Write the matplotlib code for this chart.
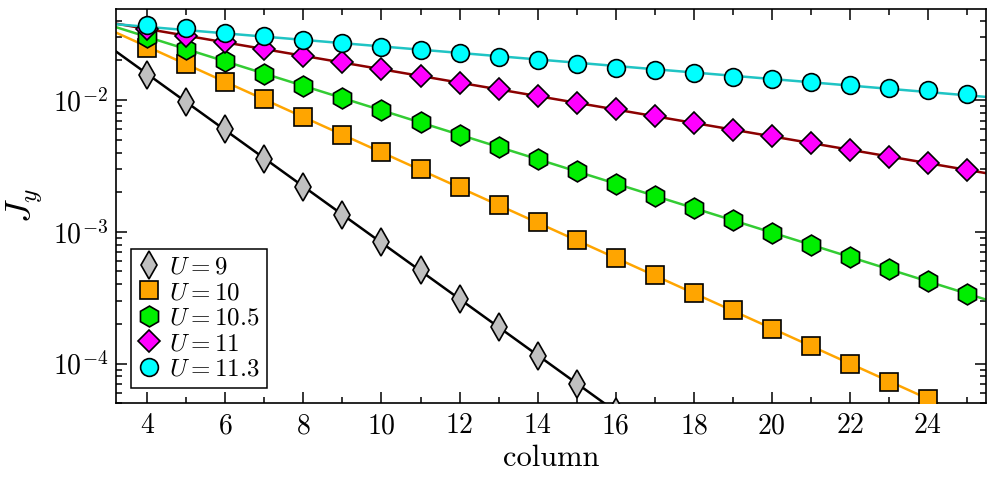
import numpy
import matplotlib
matplotlib.use("Agg")
from matplotlib import pyplot

pyplot.rcParams["font.family"] = "serif"
pyplot.rcParams["font.serif"] = ["cmr10"]
pyplot.rcParams["mathtext.fontset"] = "cm"
pyplot.rcParams["axes.formatter.use_mathtext"] = True

# data
labels = [r"$U=9$", r"$U=10$", r"$U=10.5$", r"$U=11$", r"$U=11.3$"]

col_u9 = numpy.arange(4, 17)
jy_u9 = [0.0155, 0.0097, 0.0060, 0.0036, 0.0022, 0.00135, 0.00083,
         0.00051, 0.00031, 0.00019, 0.000115, 7.05e-5, 4.3e-5]

col_u10 = numpy.arange(4, 25)
jy_u10 = [0.0247, 0.0188, 0.0137, 0.0102, 0.00746, 0.00548, 0.00404,
          0.00299, 0.00218, 0.00159, 0.00118, 0.000861, 0.000629, 0.000467,
          0.000341, 0.000253, 0.000184, 0.000135, 0.000100, 7.3e-5, 5.4e-5]

col_u105 = numpy.arange(4, 26)
jy_u105 = [0.0302, 0.0244, 0.0197, 0.0159, 0.0128, 0.01035, 0.00836,
           0.00676, 0.00546, 0.00441, 0.00356, 0.00288, 0.00232, 0.00188,
           0.00151, 0.00122, 0.000988, 0.000798, 0.000645, 0.00052,
           0.00042, 0.00034]

col_u11 = numpy.arange(4, 26)
jy_u11 = [0.0347, 0.0308, 0.0274, 0.0244, 0.0217, 0.0193, 0.0171, 0.0152,
          0.0136, 0.0121, 0.0107, 0.00955, 0.00849, 0.00755, 0.00671,
          0.00597, 0.00531, 0.00472, 0.00420, 0.00373, 0.00332, 0.00295]

col_u113 = numpy.arange(4, 26)
jy_u113 = [0.0372, 0.0351, 0.0321, 0.0307, 0.0286, 0.0270, 0.0254, 0.0240,
           0.0226, 0.0212, 0.0200, 0.0188, 0.0176, 0.0168, 0.0160, 0.0151,
           0.0144, 0.0138, 0.0130, 0.0123, 0.0119, 0.0112]

columns = [col_u9, col_u10, col_u105, col_u11, col_u113]
currents = [jy_u9, jy_u10, jy_u105, jy_u11, jy_u113]

markers = ["d", "s", "h", "D", "o"]
face_colors = ["#c0c0c0", "#ffa500", "#00ee00", "#ff00ff", "#00ffff"]
line_colors = ["black", "#ffa500", "#33cc33", "#8b0000", "#1fc4c4"]
marker_sizes = [14, 13, 15, 11, 12.8]

xmin, xmax = 3.2, 25.48

fig, ax = pyplot.subplots(1, 1)
fig.set_size_inches(9.96, 4.84)
fig.set_dpi(100)
fig.subplots_adjust(left=0.1165, right=0.9897, bottom=0.167, top=0.981)

# exponential fits as straight lines on the log axis
xfit = numpy.linspace(xmin, xmax, 200)
for i in range(len(columns)):
    coef = numpy.polyfit(columns[i], numpy.log10(currents[i]), 1)
    ax.plot(xfit, 10**numpy.polyval(coef, xfit), color=line_colors[i],
            linewidth=1.8, zorder=2)

for i in range(len(columns)):
    ax.plot(columns[i], currents[i], linestyle="none", marker=markers[i],
            markersize=marker_sizes[i], markerfacecolor=face_colors[i],
            markeredgecolor="black", markeredgewidth=1.2,
            label=labels[i], zorder=3)

ax.set_yscale("log")
ax.set_xlim(xmin, xmax)
ax.set_ylim(5e-5, 0.049)
ax.set_xticks(numpy.arange(4, 25, 2))
ax.set_xticks(numpy.arange(5, 26, 2), minor=True)

ax.set_xlabel("column", fontsize=22, labelpad=4)
ax.set_ylabel(r"$J_y$", fontsize=26, labelpad=6)

ax.tick_params(which="both", direction="in", top=True, right=True,
               labelsize=20, width=1.1)
ax.tick_params(which="major", length=8)
ax.tick_params(which="minor", length=4.5)
ax.tick_params(axis="x", which="major", pad=7)
ax.tick_params(axis="y", which="major", pad=5.5)
for spine in ax.spines.values():
    spine.set_linewidth(1.2)

leg = ax.legend(loc="lower left", fontsize=18, fancybox=False,
                edgecolor="black", framealpha=1, handlelength=0.8,
                handletextpad=0.4, borderpad=0.3, labelspacing=0.12,
                borderaxespad=0.6)
leg.get_frame().set_linewidth(1.1)

fig.savefig("out.png", dpi=100)
